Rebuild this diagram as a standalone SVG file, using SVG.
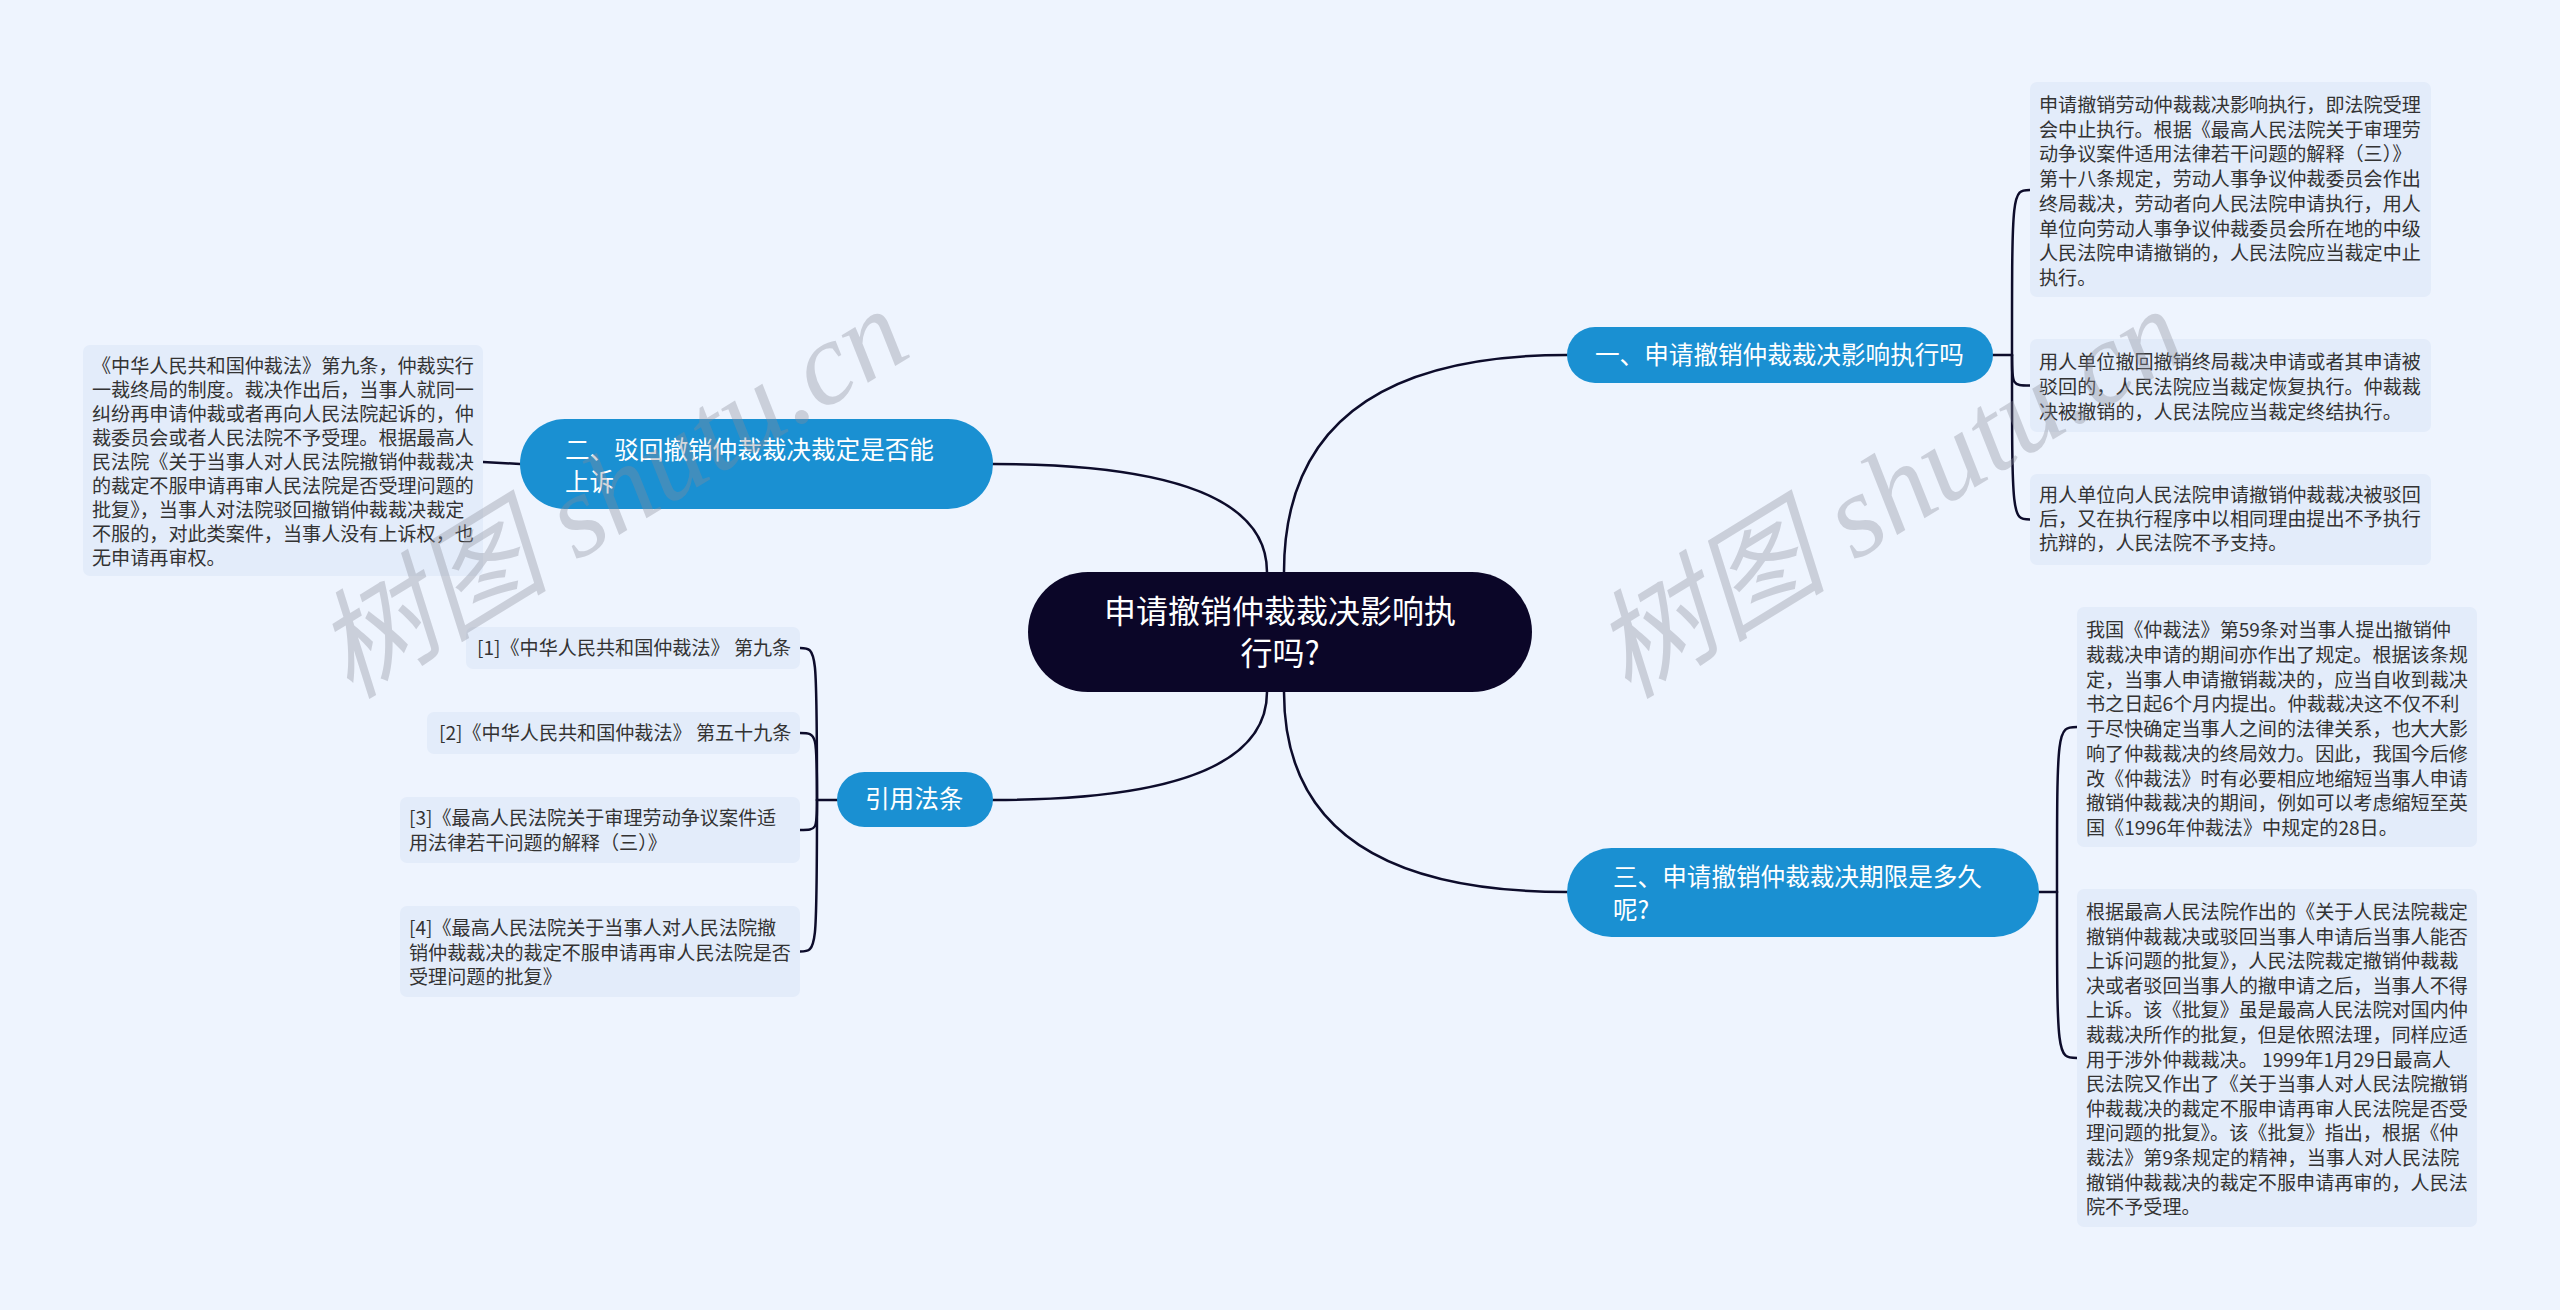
<svg xmlns="http://www.w3.org/2000/svg" width="2560" height="1310" viewBox="0 0 2560 1310">
<defs>
<style>
.bg{fill:#EEF4FE}
.conn path{fill:none;stroke:#0D0C2B;stroke-width:2.5;stroke-linecap:round}
.root rect{fill:#0B0628}
.main rect{fill:#1A90D2}
.leaf rect{fill:#E3ECFA}
.rt{font-family:"Noto Sans CJK SC","Noto Sans",sans-serif;font-size:32px;fill:#FFFFFF;text-anchor:middle}
.mt{font-family:"Noto Sans CJK SC","Noto Sans",sans-serif;font-size:24.6px;fill:#FFFFFF}
.lt{font-family:"Noto Sans CJK SC","Noto Sans",sans-serif;font-size:19.1px;fill:#333333}
.wm{font-family:"Liberation Serif","Noto Sans CJK SC",serif;font-style:italic;font-size:118px;fill:#8A8C99;opacity:0.35}
</style>
</defs>
<rect class="bg" x="0" y="0" width="2560" height="1310"/>

<g id="connectors" class="conn">
<path d="M1284,572 Q1284,355 1567,355"/>
<path d="M1267,572 Q1267,464 993,464"/>
<path d="M1267,692 Q1267,800 993,800"/>
<path d="M1284,692 Q1284,892 1567,892"/>
<path d="M1993,355 L2012,355"/>
<path d="M2012,355 C2012,190 2012,190 2030,190"/>
<path d="M2012,355 C2012,385.5 2012,385.5 2030,385.5"/>
<path d="M2012,355 C2012,519.5 2012,519.5 2030,519.5"/>
<path d="M2039,892 L2057,892"/>
<path d="M2057,892 C2057,727 2057,727 2077,727"/>
<path d="M2057,892 C2057,1058 2057,1058 2077,1058"/>
<path d="M520,464 L483,462"/>
<path d="M837,800 L817,800"/>
<path d="M817,800 C817,648 817,648 800,648"/>
<path d="M817,800 C817,733 817,733 800,733"/>
<path d="M817,800 C817,830 817,830 800,830"/>
<path d="M817,800 C817,951.5 817,951.5 800,951.5"/>
</g>

<g id="root" class="root">
<rect x="1028" y="572" width="504" height="120" rx="60"/>
<text class="rt" x="1280" y="623">申请撤销仲裁裁决影响执</text>
<text class="rt" x="1280" y="665">行吗?</text>
</g>

<g id="n1" class="main">
<rect x="1567" y="327" width="426" height="56" rx="28"/>
<text class="mt" x="1595" y="364">一、申请撤销仲裁裁决影响执行吗</text>
</g>

<g id="n2" class="main">
<rect x="520" y="419" width="473" height="90" rx="45"/>
<text class="mt" x="565" y="459">二、驳回撤销仲裁裁决裁定是否能</text>
<text class="mt" x="565" y="491">上诉</text>
</g>

<g id="n3" class="main">
<rect x="1567" y="848" width="472" height="89" rx="44.5"/>
<text class="mt" x="1613" y="886">三、申请撤销仲裁裁决期限是多久</text>
<text class="mt" x="1613" y="919">呢?</text>
</g>

<g id="n4" class="main">
<rect x="837" y="772" width="156" height="55" rx="27.5"/>
<text class="mt" x="865" y="808">引用法条</text>
</g>

<g id="leaf-r1" class="leaf">
<rect x="2030" y="82" width="401" height="215" rx="7"/>
<text class="lt" x="2039" y="112">申请撤销劳动仲裁裁决影响执行，即法院受理</text>
<text class="lt" x="2039" y="136.7">会中止执行。根据《最高人民法院关于审理劳</text>
<text class="lt" x="2039" y="161.4">动争议案件适用法律若干问题的解释（三）》</text>
<text class="lt" x="2039" y="186.1">第十八条规定，劳动人事争议仲裁委员会作出</text>
<text class="lt" x="2039" y="210.8">终局裁决，劳动者向人民法院申请执行，用人</text>
<text class="lt" x="2039" y="235.5">单位向劳动人事争议仲裁委员会所在地的中级</text>
<text class="lt" x="2039" y="260.2">人民法院申请撤销的，人民法院应当裁定中止</text>
<text class="lt" x="2039" y="284.9">执行。</text>
</g>

<g id="leaf-r2" class="leaf">
<rect x="2030" y="339" width="401" height="93" rx="7"/>
<text class="lt" x="2039" y="369">用人单位撤回撤销终局裁决申请或者其申请被</text>
<text class="lt" x="2039" y="394">驳回的，人民法院应当裁定恢复执行。仲裁裁</text>
<text class="lt" x="2039" y="419">决被撤销的，人民法院应当裁定终结执行。</text>
</g>

<g id="leaf-r3" class="leaf">
<rect x="2030" y="474" width="401" height="91" rx="7"/>
<text class="lt" x="2039" y="502">用人单位向人民法院申请撤销仲裁裁决被驳回</text>
<text class="lt" x="2039" y="526">后，又在执行程序中以相同理由提出不予执行</text>
<text class="lt" x="2039" y="550">抗辩的，人民法院不予支持。</text>
</g>

<g id="leaf-r4" class="leaf">
<rect x="2077" y="607" width="400" height="240" rx="7"/>
<text class="lt" x="2086" y="637">我国《仲裁法》第59条对当事人提出撤销仲</text>
<text class="lt" x="2086" y="661.75">裁裁决申请的期间亦作出了规定。根据该条规</text>
<text class="lt" x="2086" y="686.5">定，当事人申请撤销裁决的，应当自收到裁决</text>
<text class="lt" x="2086" y="711.25">书之日起6个月内提出。仲裁裁决这不仅不利</text>
<text class="lt" x="2086" y="736">于尽快确定当事人之间的法律关系，也大大影</text>
<text class="lt" x="2086" y="760.75">响了仲裁裁决的终局效力。因此，我国今后修</text>
<text class="lt" x="2086" y="785.5">改《仲裁法》时有必要相应地缩短当事人申请</text>
<text class="lt" x="2086" y="810.25">撤销仲裁裁决的期间，例如可以考虑缩短至英</text>
<text class="lt" x="2086" y="835">国《1996年仲裁法》中规定的28日。</text>
</g>

<g id="leaf-r5" class="leaf">
<rect x="2077" y="889" width="400" height="338" rx="7"/>
<text class="lt" x="2086" y="919">根据最高人民法院作出的《关于人民法院裁定</text>
<text class="lt" x="2086" y="943.6">撤销仲裁裁决或驳回当事人申请后当事人能否</text>
<text class="lt" x="2086" y="968.2">上诉问题的批复》，人民法院裁定撤销仲裁裁</text>
<text class="lt" x="2086" y="992.8">决或者驳回当事人的撤申请之后，当事人不得</text>
<text class="lt" x="2086" y="1017.4">上诉。该《批复》虽是最高人民法院对国内仲</text>
<text class="lt" x="2086" y="1042">裁裁决所作的批复，但是依照法理，同样应适</text>
<text class="lt" x="2086" y="1066.6">用于涉外仲裁裁决。 1999年1月29日最高人</text>
<text class="lt" x="2086" y="1091.2">民法院又作出了《关于当事人对人民法院撤销</text>
<text class="lt" x="2086" y="1115.8">仲裁裁决的裁定不服申请再审人民法院是否受</text>
<text class="lt" x="2086" y="1140.4">理问题的批复》。该《批复》指出，根据《仲</text>
<text class="lt" x="2086" y="1165">裁法》第9条规定的精神，当事人对人民法院</text>
<text class="lt" x="2086" y="1189.6">撤销仲裁裁决的裁定不服申请再审的，人民法</text>
<text class="lt" x="2086" y="1214.2">院不予受理。</text>
</g>

<g id="leaf-l1" class="leaf">
<rect x="83" y="345" width="400" height="231" rx="7"/>
<text class="lt" x="92" y="373">《中华人民共和国仲裁法》第九条，仲裁实行</text>
<text class="lt" x="92" y="397">一裁终局的制度。裁决作出后，当事人就同一</text>
<text class="lt" x="92" y="421">纠纷再申请仲裁或者再向人民法院起诉的，仲</text>
<text class="lt" x="92" y="445">裁委员会或者人民法院不予受理。根据最高人</text>
<text class="lt" x="92" y="469">民法院《关于当事人对人民法院撤销仲裁裁决</text>
<text class="lt" x="92" y="493">的裁定不服申请再审人民法院是否受理问题的</text>
<text class="lt" x="92" y="517">批复》，当事人对法院驳回撤销仲裁裁决裁定</text>
<text class="lt" x="92" y="541">不服的，对此类案件，当事人没有上诉权，也</text>
<text class="lt" x="92" y="565">无申请再审权。</text>
</g>

<g id="ref1" class="leaf">
<rect x="466" y="627" width="334" height="42" rx="7"/>
<text class="lt" x="477" y="655">[1]《中华人民共和国仲裁法》 第九条</text>
</g>

<g id="ref2" class="leaf">
<rect x="427" y="712" width="373" height="42" rx="7"/>
<text class="lt" x="439" y="740">[2]《中华人民共和国仲裁法》 第五十九条</text>
</g>

<g id="ref3" class="leaf">
<rect x="400" y="797" width="400" height="66" rx="7"/>
<text class="lt" x="409" y="825">[3]《最高人民法院关于审理劳动争议案件适</text>
<text class="lt" x="409" y="850">用法律若干问题的解释（三）》</text>
</g>

<g id="ref4" class="leaf">
<rect x="400" y="906" width="400" height="91" rx="7"/>
<text class="lt" x="409" y="935">[4]《最高人民法院关于当事人对人民法院撤</text>
<text class="lt" x="409" y="960">销仲裁裁决的裁定不服申请再审人民法院是否</text>
<text class="lt" x="409" y="984">受理问题的批复》</text>
</g>

<g id="watermark">
<text class="wm" transform="translate(350,700) rotate(-31.5)">树图 shutu.cn</text>
<text class="wm" transform="translate(1628,700) rotate(-31.5)">树图 shutu.cn</text>
</g>
</svg>
